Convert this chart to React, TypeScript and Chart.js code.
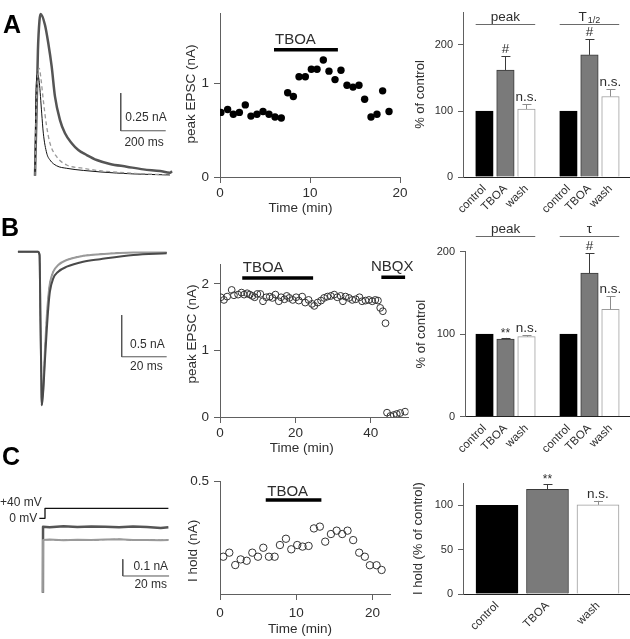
import React, { useEffect, useRef } from 'react';
import { Chart, registerables } from 'chart.js';

Chart.register(...registerables);

const FONT = "'Liberation Sans', Arial, Helvetica, sans-serif";
const INK = '#2e2e2e';
const AXIS = '#606060';
Chart.defaults.font.family = FONT;

// ================= Row A =================
const A_TIME = [0.1, 0.85, 1.48, 2.15, 2.81, 3.44, 4.11, 4.78, 5.44, 6.11, 6.81, 7.52, 8.15, 8.78, 9.48, 10.15, 10.78, 11.48, 12.11, 12.78, 13.44, 14.11, 14.78, 15.44, 16.07, 16.78, 17.44, 18.07, 18.78];
const A_EPSC = [0.69, 0.72, 0.67, 0.69, 0.77, 0.65, 0.67, 0.7, 0.67, 0.64, 0.63, 0.9, 0.86, 1.07, 1.07, 1.15, 1.15, 1.25, 1.13, 1.04, 1.14, 0.98, 0.96, 0.98, 0.83, 0.64, 0.67, 0.92, 0.7];
const A_X_TICKS = [0, 10, 20];
const A_Y_TICKS = [0, 1];
const A_TBOA_SPAN = [6, 13.1];
const A_TBOA_LEVEL = 1.36;

// traces A (ms, nA)
const TRA_T_TBOA = [0, 6, 13, 20, 25.3, 44.4, 59.1, 74.2, 88.9, 111.1, 133.3, 163.1, 192.4, 229.8, 274.2, 333.3, 407.6, 481.3, 555.6, 600, 609];
const TRA_I_TBOA = [0, 0.37, 0.83, 1.03, 1.072, 0.999, 0.878, 0.723, 0.524, 0.369, 0.281, 0.215, 0.17, 0.137, 0.104, 0.078, 0.06, 0.042, 0.031, 0.02, 0.03];
const TRA_T_CTRL = [0, 3, 7, 12, 19, 29.8, 37, 52, 66.7, 96, 141, 215, 289, 435, 600];
const TRA_I_CTRL = [0, 0.45, 0.64, 0.672, 0.62, 0.415, 0.282, 0.15, 0.104, 0.066, 0.049, 0.035, 0.025, 0.012, 0.005];
const TRA_T_WASH = [0, 5, 12, 19, 26, 37, 52, 66.7, 96, 141, 215, 289, 435, 600];
const TRA_I_WASH = [0, 0.4, 0.66, 0.712, 0.65, 0.5, 0.325, 0.215, 0.126, 0.071, 0.049, 0.033, 0.016, 0.005];
const SBA_CORNER = [381, 0.298];
const SBA_SIZE = [200, 0.25];
const SBA_LABELS = ['200 ms', '0.25 nA'];

const CATS = ['control', 'TBOA', 'wash'];
const A_PEAK = [100, 162, 103];
const A_PEAK_ERR = [0, 21, 7];
const A_PEAK_SIG = ['', '#', 'n.s.'];
const A_T12 = [100, 185, 122];
const A_T12_ERR = [0, 24, 11];
const A_T12_SIG = ['', '#', 'n.s.'];
const BAR_A_TICKS = [0, 100, 200];

// ================= Row B =================
const B_TIME = [0.2, 1.05, 1.9, 3.1, 3.7, 4.8, 5.7, 6.4, 7.2, 7.9, 8.6, 9.2, 9.9, 10.7, 11.4, 12.3, 13.2, 13.9, 14.7, 15.6, 16.2, 17.1, 17.7, 18.4, 19.3, 20.2, 20.9, 21.8, 22.6, 23.5, 24.4, 25.0, 25.9, 26.8, 27.6, 28.5, 29.4, 30.3, 31.1, 32.0, 32.6, 33.3, 34.2, 35.1, 36.0, 37.0, 37.7, 38.6, 39.5, 40.4, 41.2, 41.9, 42.5, 43.2, 43.9, 44.3, 45.2, 46.1, 46.9, 47.8, 49.1];
const B_EPSC = [1.8, 1.76, 1.81, 1.91, 1.83, 1.84, 1.87, 1.84, 1.86, 1.84, 1.82, 1.8, 1.85, 1.85, 1.74, 1.8, 1.81, 1.79, 1.84, 1.74, 1.8, 1.77, 1.82, 1.79, 1.76, 1.8, 1.75, 1.81, 1.72, 1.76, 1.7, 1.67, 1.72, 1.75, 1.79, 1.81, 1.82, 1.84, 1.8, 1.82, 1.74, 1.81, 1.79, 1.76, 1.77, 1.8, 1.74, 1.75, 1.76, 1.74, 1.76, 1.75, 1.64, 1.59, 1.41, 0.065, 0.015, 0.03, 0.045, 0.06, 0.08];
const B_X_TICKS = [0, 20, 40];
const B_Y_TICKS = [0, 1, 2];
const B_TBOA_SPAN = [5.9, 24.7];
const B_TBOA_LEVEL = 2.09;
const B_NBQX_SPAN = [42.8, 49.1];
const B_NBQX_LEVEL = 2.1;

const TRB_T_CTRL = [-9.8, -0.9, -0.2, 0.2, 0.6, 0.75, 1.0, 1.47, 2.2, 3.0, 3.7, 4.4, 5.9, 8.1, 11.9, 19.2, 26.7, 41.5, 56.3];
const TRB_I_CTRL = [0, 0, -0.04, -0.82, -1.54, -1.84, -1.78, -1.62, -1.18, -0.78, -0.54, -0.38, -0.24, -0.16, -0.1, -0.05, -0.03, -0.01, -0.01];
const TRB_T_TBOA = [-9.8, -0.9, -0.2, 0.2, 0.6, 0.75, 1.0, 1.47, 2.2, 3.0, 3.7, 4.4, 5.9, 8.1, 11.9, 19.2, 26.7, 41.5, 56.3];
const TRB_I_TBOA = [0, 0, -0.04, -0.82, -1.54, -1.84, -1.8, -1.66, -1.3, -0.94, -0.67, -0.48, -0.32, -0.24, -0.18, -0.12, -0.09, -0.04, -0.02];
const SBB_CORNER = [36.3, -1.26];
const SBB_SIZE = [20, 0.5];
const SBB_LABELS = ['20 ms', '0.5 nA'];

const B_PEAK = [100, 94, 97];
const B_PEAK_ERR = [0, 1.5, 2];
const B_PEAK_SIG = ['', '**', 'n.s.'];
const B_TAU = [100, 174, 130];
const B_TAU_ERR = [0, 24, 16];
const B_TAU_SIG = ['', '#', 'n.s.'];
const BAR_B_TICKS = [0, 100, 200];

// ================= Row C =================
const C_TIME = [0.43, 1.22, 2.0, 2.71, 3.5, 4.24, 4.98, 5.68, 6.42, 7.17, 7.86, 8.65, 9.35, 10.13, 10.83, 11.62, 12.32, 13.1, 13.8, 14.55, 15.3, 16.03, 16.73, 17.47, 18.26, 19.0, 19.66, 20.54, 21.2];
const C_HOLD = [0.166, 0.184, 0.129, 0.154, 0.148, 0.184, 0.166, 0.206, 0.166, 0.166, 0.218, 0.246, 0.199, 0.218, 0.211, 0.214, 0.292, 0.3, 0.233, 0.267, 0.282, 0.267, 0.282, 0.24, 0.184, 0.166, 0.128, 0.128, 0.107];
const C_X_TICKS = [0, 10, 20];
const C_Y_TICKS = [0.5];
const C_TBOA_SPAN = [6.0, 13.3];
const C_TBOA_LEVEL = 0.419;

const TRC_V_T = [-2.46, 0, 0, 53.3];
const TRC_V_MV = [0, 0, 40, 40];
const TRC_T = [-0.9, -0.85, 2, 8, 14, 20, 26, 32, 38, 44, 50, 53.3];
const TRC_I_TBOA = [0, 0.395, 0.392, 0.398, 0.393, 0.397, 0.395, 0.392, 0.397, 0.393, 0.388, 0.392];
const TRC_I_CTRL = [0, 0.316, 0.318, 0.314, 0.317, 0.315, 0.318, 0.32, 0.315, 0.316, 0.314, 0.316];
const SBC_CORNER = [33.6, 0.1];
const SBC_SIZE = [20, 0.1];
const SBC_LABELS = ['20 ms', '0.1 nA'];

const C_PCT = [100, 118, 100.5];
const C_PCT_ERR = [0, 5.5, 4.5];
const C_PCT_SIG = ['', '**', 'n.s.'];
const BAR_C_TICKS = [0, 50, 100];

// ================= styles =================
const CAT_FILL = ['#000000', '#7a7a7a', '#ffffff'];
const CAT_EDGE = ['#000000', '#3a3a3a', '#9c9c9c'];
const ERR_COL = ['#000000', '#3a3a3a', '#8c8c8c'];

type Note = {
  text: string; x: number; y: number; data?: boolean; yId?: string; dx?: number; dy?: number;
  align?: CanvasTextAlign; base?: CanvasTextBaseline; size?: number; bold?: boolean; color?: string; rot?: number; sub?: string;
};

const pts = (xs: number[], ys: number[]) => xs.map((x, i) => ({ x, y: ys[i] }));

function drawText(ctx: CanvasRenderingContext2D, n: Note, X: number, Y: number) {
  const size = n.size || 12;
  ctx.save();
  ctx.translate(X + (n.dx || 0), Y + (n.dy || 0));
  if (n.rot) ctx.rotate(n.rot);
  ctx.fillStyle = n.color || INK;
  ctx.textBaseline = n.base || 'alphabetic';
  const mainFont = `${n.bold ? 'bold ' : ''}${size}px ${FONT}`;
  ctx.font = mainFont;
  if (n.sub) {
    const w1 = ctx.measureText(n.text).width;
    const subSize = Math.round(size * 0.65);
    ctx.font = `${subSize}px ${FONT}`;
    const w2 = ctx.measureText(n.sub).width;
    const tot = w1 + w2 + 1;
    const al = n.align || 'center';
    const x0 = al === 'center' ? -tot / 2 : al === 'right' ? -tot : 0;
    ctx.textAlign = 'left';
    ctx.font = mainFont;
    ctx.fillText(n.text, x0, 0);
    ctx.font = `${subSize}px ${FONT}`;
    ctx.fillText(n.sub, x0 + w1 + 1, size * 0.2);
  } else {
    ctx.textAlign = n.align || 'center';
    ctx.fillText(n.text, 0, 0);
  }
  ctx.restore();
}

function notesPlugin(notes: Note[]) {
  return {
    id: 'notes',
    afterDraw(chart: any) {
      const ctx = chart.ctx as CanvasRenderingContext2D;
      notes.forEach((n) => {
        let X = n.x, Y = n.y;
        if (n.data) {
          X = chart.scales.x.getPixelForValue(n.x);
          Y = chart.scales[n.yId || 'y'].getPixelForValue(n.y);
        }
        drawText(ctx, n, X, Y);
      });
    },
  };
}

const fixTicks = (vals: number[]) => (s: any) => { s.ticks = vals.map((v) => ({ value: v })); };

// ---------------- trace panels ----------------
type TraceLine = { xs: number[]; ys: number[]; color: string; width: number; dash?: number[]; smooth?: boolean; yId?: string };

function scaleBarLines(corner: number[], size: number[]): TraceLine {
  return {
    xs: [corner[0], corner[0], corner[0] + size[0]],
    ys: [corner[1] + size[1], corner[1], corner[1]],
    color: '#555', width: 1,
  };
}
function scaleBarNotes(corner: number[], size: number[], labels: string[], off: number[]): Note[] {
  return [
    { text: labels[1], x: corner[0] + size[0], y: corner[1], data: true, dx: off[0], dy: off[1], align: 'right', base: 'middle', size: 12 },
    { text: labels[0], x: corner[0] + size[0], y: corner[1], data: true, dx: off[2], dy: off[3], align: 'right', base: 'middle', size: 12 },
  ];
}

function traceConfig(t: { lines: TraceLine[]; x: number[]; y: number[]; v?: number[]; pad: any; notes: Note[] }) {
  const scales: any = {
    x: { type: 'linear', display: false, min: t.x[0], max: t.x[1] },
    y: { type: 'linear', display: false, min: t.y[0], max: t.y[1] },
  };
  if (t.v) scales.v = { type: 'linear', display: false, min: t.v[0], max: t.v[1] };
  return {
    type: 'line',
    data: {
      datasets: t.lines.map((l) => ({
        data: pts(l.xs, l.ys),
        borderColor: l.color,
        borderWidth: l.width,
        borderDash: l.dash || [],
        pointRadius: 0,
        fill: false,
        tension: 0,
        cubicInterpolationMode: l.smooth ? 'monotone' : 'default',
        yAxisID: l.yId || 'y',
        borderJoinStyle: 'round',
        clip: false,
      })),
    },
    options: {
      responsive: false, animation: false, events: [],
      layout: { padding: t.pad },
      plugins: { legend: { display: false }, tooltip: { enabled: false } },
      scales,
    },
    plugins: [notesPlugin(t.notes)],
  };
}

// ---------------- scatter panels ----------------
type ScatterSpec = {
  points: { x: number; y: number }[]; filled: boolean; r: number;
  marks: { span: number[]; level: number }[];
  xMax: number; yMax: number; xTicks: number[]; yTicks: number[];
  pad: any; yW: number; xH: number; xTickPad: number; notes: Note[];
};

function scatterConfig(s: ScatterSpec) {
  return {
    type: 'scatter',
    data: {
      datasets: [
        {
          data: s.points,
          pointRadius: s.r,
          pointBackgroundColor: s.filled ? '#000' : 'rgba(0,0,0,0)',
          pointBorderColor: s.filled ? '#000' : '#333',
          pointBorderWidth: s.filled ? 0 : 1,
          showLine: false,
        },
        ...s.marks.map((m) => ({
          data: [{ x: m.span[0], y: m.level }, { x: m.span[1], y: m.level }],
          showLine: true, borderColor: '#000', borderWidth: 3.5, pointRadius: 0, borderCapStyle: 'butt',
        })),
      ],
    },
    options: {
      responsive: false, animation: false, events: [],
      layout: { padding: s.pad },
      plugins: { legend: { display: false }, tooltip: { enabled: false } },
      scales: {
        x: {
          type: 'linear', min: 0, max: s.xMax,
          afterBuildTicks: fixTicks(s.xTicks),
          afterFit: (sc: any) => { sc.height = s.xH; },
          grid: { display: true, drawOnChartArea: false, drawTicks: true, tickLength: 6, color: AXIS },
          border: { display: true, color: AXIS, width: 1 },
          ticks: { autoSkip: false, maxRotation: 0, padding: s.xTickPad, color: INK, font: { family: FONT, size: 13.5 } },
        },
        y: {
          type: 'linear', min: 0, max: s.yMax,
          afterBuildTicks: fixTicks(s.yTicks),
          afterFit: (sc: any) => { sc.width = s.yW; },
          grid: { display: true, drawOnChartArea: false, drawTicks: true, tickLength: 6, color: AXIS },
          border: { display: true, color: AXIS, width: 1 },
          ticks: { padding: 5, color: INK, font: { family: FONT, size: 13.5 } },
        },
      },
    },
    plugins: [notesPlugin(s.notes)],
  };
}

// ---------------- bar panels ----------------
type Group = { vals: number[]; errs: number[]; sig: string[]; head?: string; headSub?: string };
type BarSpec = {
  groups: Group[]; xRange: number[]; yMax: number; yTicks: number[]; thick: number;
  pad: any; yW: number; xH: number; yTitle: string; yTitlePad: number; headLevel?: number;
};

function barConfig(s: BarSpec) {
  const slot = CATS.length + 1;
  const data: { x: number; y: number }[] = [];
  const fill: string[] = [], edge: string[] = [], ecol: string[] = [], sigs: string[] = [];
  const errs: number[] = [];
  s.groups.forEach((g, gi) =>
    g.vals.forEach((v, ci) => {
      data.push({ x: gi * slot + ci, y: v });
      fill.push(CAT_FILL[ci]); edge.push(CAT_EDGE[ci]); ecol.push(ERR_COL[ci]);
      errs.push(g.errs[ci]); sigs.push(g.sig[ci]);
    })
  );
  const tickVals = data.map((d) => d.x);
  const extras = {
    id: 'barExtras',
    afterDatasetsDraw(chart: any) {
      const ctx = chart.ctx as CanvasRenderingContext2D;
      const ys = chart.scales.y;
      const els = chart.getDatasetMeta(0).data;
      ctx.save();
      els.forEach((el: any, i: number) => {
        const yTop = ys.getPixelForValue(data[i].y + errs[i]);
        if (errs[i] > 0) {
          ctx.strokeStyle = ecol[i];
          ctx.lineWidth = 1;
          ctx.beginPath();
          ctx.moveTo(Math.round(el.x) + 0.5, el.y);
          ctx.lineTo(Math.round(el.x) + 0.5, yTop);
          ctx.moveTo(el.x - 4, Math.round(yTop) + 0.5);
          ctx.lineTo(el.x + 5, Math.round(yTop) + 0.5);
          ctx.stroke();
        }
        if (sigs[i]) {
          const star = sigs[i].startsWith('*');
          drawText(ctx, { text: sigs[i], x: 0, y: 0, size: star ? 12 : 13.5, align: 'center' }, el.x, yTop - (star ? 1 : 3));
        }
      });
      if (s.headLevel !== undefined) {
        const yH = Math.round(ys.getPixelForValue(s.headLevel)) + 0.5;
        s.groups.forEach((g, gi) => {
          if (!g.head) return;
          const a = els[gi * CATS.length];
          const b = els[gi * CATS.length + CATS.length - 1];
          const x0 = a.x - a.width / 2, x1 = b.x + b.width / 2;
          ctx.strokeStyle = '#6a6a6a';
          ctx.lineWidth = 1;
          ctx.beginPath();
          ctx.moveTo(x0, yH);
          ctx.lineTo(x1, yH);
          ctx.stroke();
          drawText(ctx, { text: g.head, sub: g.headSub, x: 0, y: 0, size: 13.5, align: 'center' }, (x0 + x1) / 2, yH - 4);
        });
      }
      ctx.restore();
    },
  };
  return {
    type: 'bar',
    data: {
      datasets: [
        { data, backgroundColor: fill, borderColor: edge, borderWidth: 1, barThickness: s.thick, borderSkipped: 'start' },
      ],
    },
    options: {
      responsive: false, animation: false, events: [],
      layout: { padding: s.pad },
      plugins: { legend: { display: false }, tooltip: { enabled: false } },
      scales: {
        x: {
          type: 'linear', min: s.xRange[0], max: s.xRange[1], offset: false,
          afterBuildTicks: fixTicks(tickVals),
          afterFit: (sc: any) => { sc.height = s.xH; },
          grid: { display: true, drawOnChartArea: false, drawTicks: false, offset: false },
          border: { display: true, color: '#222', width: 1, z: 1 },
          ticks: {
            autoSkip: false, maxRotation: 45, minRotation: 45, padding: 5, color: INK,
            font: { family: FONT, size: 11.5 },
            callback: (v: number) => CATS[Math.round(v) % slot],
          },
        },
        y: {
          type: 'linear', min: 0, max: s.yMax,
          afterBuildTicks: fixTicks(s.yTicks),
          afterFit: (sc: any) => { sc.width = s.yW; },
          grid: { display: true, drawOnChartArea: false, drawTicks: true, tickLength: 5, color: AXIS },
          border: { display: true, color: AXIS, width: 1, z: 1 },
          ticks: { padding: 5, color: INK, font: { family: FONT, size: 11 } },
          title: { display: true, text: s.yTitle, color: INK, font: { family: FONT, size: 13 }, padding: { top: s.yTitlePad, bottom: 0 } },
        },
      },
    },
    plugins: [extras],
  };
}

// ---------------- chart configs ----------------
const traceA = () =>
  traceConfig({
    lines: [
      { xs: TRA_T_WASH, ys: TRA_I_WASH, color: '#9a9a9a', width: 1.3, dash: [4, 3], smooth: true },
      { xs: TRA_T_CTRL, ys: TRA_I_CTRL, color: '#111', width: 1, smooth: true },
      { xs: TRA_T_TBOA, ys: TRA_I_TBOA, color: '#555', width: 2.5, smooth: true },
      scaleBarLines(SBA_CORNER, SBA_SIZE),
    ],
    x: [-22.2, 622.2], y: [-0.0948, 1.132],
    pad: { left: 30, right: 3, top: 5, bottom: 15 },
    notes: scaleBarNotes(SBA_CORNER, SBA_SIZE, SBA_LABELS, [1, -13, -2, 12]),
  });

const traceB = () =>
  traceConfig({
    lines: [
      { xs: TRB_T_TBOA, ys: TRB_I_TBOA, color: '#4a4a4a', width: 2, smooth: true },
      { xs: TRB_T_CTRL, ys: TRB_I_CTRL, color: '#9a9a9a', width: 2, smooth: true },
      { xs: TRB_T_CTRL, ys: TRB_I_CTRL, color: '#111', width: 1, dash: [5, 3], smooth: true },
      scaleBarLines(SBB_CORNER, SBB_SIZE),
    ],
    x: [-11.11, 60], y: [-1.922, 0.14],
    pad: { left: 15, right: 3, top: 35, bottom: 8 },
    notes: scaleBarNotes(SBB_CORNER, SBB_SIZE, SBB_LABELS, [-2, -12, -4, 10]),
  });

const traceC = () =>
  traceConfig({
    lines: [
      { xs: TRC_V_T, ys: TRC_V_MV, color: '#111', width: 1.3, yId: 'v' },
      { xs: TRC_T, ys: TRC_I_CTRL, color: '#9a9a9a', width: 2 },
      { xs: TRC_T, ys: TRC_I_CTRL, color: '#111', width: 1, dash: [5, 3] },
      { xs: TRC_T, ys: TRC_I_TBOA, color: '#555', width: 2.5 },
      scaleBarLines(SBC_CORNER, SBC_SIZE),
    ],
    x: [-6.48, 56.16], y: [-0.0437, 1.004], v: [-326.8, 373.2],
    pad: { left: 30, right: 3, top: 5, bottom: 39 },
    notes: [
      ...scaleBarNotes(SBC_CORNER, SBC_SIZE, SBC_LABELS, [-1, -9.5, -2, 8.5]),
      { text: '+40 mV', x: TRC_V_T[0], y: TRC_V_MV[2], data: true, yId: 'v', dx: 2.5, dy: -6, align: 'right', base: 'middle', size: 12 },
      { text: '0 mV', x: TRC_V_T[0], y: TRC_V_MV[0], data: true, yId: 'v', dx: -2, dy: 0.5, align: 'right', base: 'middle', size: 12 },
    ],
  });

const scatterA = () =>
  scatterConfig({
    points: pts(A_TIME, A_EPSC), filled: true, r: 3.7,
    marks: [{ span: A_TBOA_SPAN, level: A_TBOA_LEVEL }],
    xMax: 20, yMax: 1.75, xTicks: A_X_TICKS, yTicks: A_Y_TICKS,
    pad: { left: 0, right: 12, top: 13, bottom: 2 }, yW: 44, xH: 41, xTickPad: 2.5,
    notes: [
      { text: 'TBOA', x: A_TBOA_SPAN[0], y: A_TBOA_LEVEL, data: true, dx: 1, dy: -6, align: 'left', size: 15 },
      { text: 'Time (min)', x: 124.5, y: 208, base: 'middle', size: 13.5 },
      { text: 'peak EPSC (nA)', x: 15.5, y: 94, base: 'middle', size: 13.5, rot: -Math.PI / 2 },
    ],
  });

const scatterB = () =>
  scatterConfig({
    points: pts(B_TIME, B_EPSC), filled: false, r: 3.4,
    marks: [{ span: B_TBOA_SPAN, level: B_TBOA_LEVEL }, { span: B_NBQX_SPAN, level: B_NBQX_LEVEL }],
    xMax: 50, yMax: 2.3, xTicks: B_X_TICKS, yTicks: B_Y_TICKS,
    pad: { left: 0, right: 11.5, top: 49, bottom: 2 }, yW: 44, xH: 36, xTickPad: 2.5,
    notes: [
      { text: 'TBOA', x: B_TBOA_SPAN[0], y: B_TBOA_LEVEL, data: true, dx: 0.5, dy: -6.3, align: 'left', size: 15 },
      { text: 'NBQX', x: (B_NBQX_SPAN[0] + B_NBQX_SPAN[1]) / 2, y: B_NBQX_LEVEL, data: true, dx: -1, dy: -6.3, align: 'center', size: 15 },
      { text: 'Time (min)', x: 125.7, y: 233, base: 'middle', size: 13.5 },
      { text: 'peak EPSC (nA)', x: 16, y: 119, base: 'middle', size: 13.5, rot: -Math.PI / 2 },
    ],
  });

const scatterC = () =>
  scatterConfig({
    points: pts(C_TIME, C_HOLD), filled: false, r: 3.7,
    marks: [{ span: C_TBOA_SPAN, level: C_TBOA_LEVEL }],
    xMax: 22.3, yMax: 0.5, xTicks: C_X_TICKS, yTicks: C_Y_TICKS,
    pad: { left: 0, right: 20, top: 26.7, bottom: 2 }, yW: 44, xH: 43, xTickPad: 5.5,
    notes: [
      { text: 'TBOA', x: C_TBOA_SPAN[0], y: C_TBOA_LEVEL, data: true, dx: 1.5, dy: -4, align: 'left', size: 15 },
      { text: 'Time (min)', x: 124, y: 174, base: 'middle', size: 13.5 },
      { text: 'I hold (nA)', x: 17.3, y: 95.8, base: 'middle', size: 13.5, rot: -Math.PI / 2 },
    ],
  });

const barA = () =>
  barConfig({
    groups: [
      { vals: A_PEAK, errs: A_PEAK_ERR, sig: A_PEAK_SIG, head: 'peak' },
      { vals: A_T12, errs: A_T12_ERR, sig: A_T12_SIG, head: 'T', headSub: '1/2' },
    ],
    xRange: [-1.02, 6.93], yMax: 250, yTicks: BAR_A_TICKS, thick: 17.5,
    pad: { left: 0, right: 0, top: 12, bottom: 0 }, yW: 58, xH: 43,
    yTitle: '% of control', yTitlePad: 8, headLevel: 232,
  });

const barB = () =>
  barConfig({
    groups: [
      { vals: B_PEAK, errs: B_PEAK_ERR, sig: B_PEAK_SIG, head: 'peak' },
      { vals: B_TAU, errs: B_TAU_ERR, sig: B_TAU_SIG, head: 'τ' },
    ],
    xRange: [-0.93, 6.93], yMax: 200, yTicks: BAR_B_TICKS, thick: 17.5,
    pad: { left: 0, right: 0, top: 36.7, bottom: 0 }, yW: 60, xH: 38.3,
    yTitle: '% of control', yTitlePad: 9, headLevel: 219,
  });

const barC = () =>
  barConfig({
    groups: [{ vals: C_PCT, errs: C_PCT_ERR, sig: C_PCT_SIG }],
    xRange: [-0.673, 2.634], yMax: 125, yTicks: BAR_C_TICKS, thick: 42,
    pad: { left: 0, right: 0, top: 28.1, bottom: 0 }, yW: 58, xH: 45,
    yTitle: 'I hold (% of control)', yTitlePad: 6,
  });

// ---------------- components ----------------
function ChartBox({ l, t, w, h, make }: { l: number; t: number; w: number; h: number; make: () => any }) {
  const ref = useRef<HTMLCanvasElement>(null);
  useEffect(() => {
    const chart = new Chart(ref.current as HTMLCanvasElement, make());
    return () => chart.destroy();
  }, []);
  return (
    <canvas
      ref={ref}
      width={w}
      height={h}
      style={{ position: 'absolute', left: l, top: t, width: w, height: h }}
    />
  );
}

function Letter({ ch, x, y }: { ch: string; x: number; y: number }) {
  return (
    <div
      style={{
        position: 'absolute', left: x, top: y, fontFamily: FONT, fontWeight: 'bold',
        fontSize: 25, lineHeight: '25px', color: '#000',
      }}
    >
      {ch}
    </div>
  );
}

export default function App() {
  return (
    <div style={{ position: 'absolute', left: 0, top: 0, width: 630, height: 639, overflow: 'hidden', background: '#fff' }}>
      <ChartBox l={0} t={0} w={178} h={205} make={traceA} />
      <ChartBox l={176} t={0} w={236} h={220} make={scatterA} />
      <ChartBox l={405} t={0} w={225} h={220} make={barA} />
      <ChartBox l={0} t={205} w={178} h={215} make={traceB} />
      <ChartBox l={176} t={215} w={244} h={240} make={scatterB} />
      <ChartBox l={405} t={215} w={225} h={240} make={barB} />
      <ChartBox l={0} t={420} w={178} h={219} make={traceC} />
      <ChartBox l={176} t={455} w={234} h={184} make={scatterC} />
      <ChartBox l={405} t={455} w={225} h={184} make={barC} />
      <Letter ch="A" x={3} y={12} />
      <Letter ch="B" x={1} y={215} />
      <Letter ch="C" x={2} y={444} />
    </div>
  );
}
